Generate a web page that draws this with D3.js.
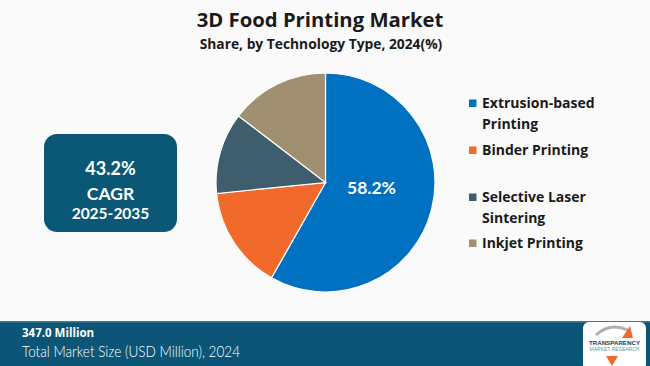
<!DOCTYPE html>
<html><head><meta charset="utf-8">
<script src="https://cdn.jsdelivr.net/npm/d3@7"></script>
<style>html,body{margin:0;padding:0;background:#fafafa;}svg{display:block;}</style>
</head><body>
<svg id="c" width="650" height="366"></svg>
<script>
const categories = ["Extrusion-based Printing", "Binder Printing", "Selective Laser Sintering", "Inkjet Printing"];
const legendLines = [["Extrusion-based", "Printing"], ["Binder Printing"], ["Selective Laser", "Sintering"], ["Inkjet Printing"]];
const shares = [58.2, 15.2, 12.0, 14.6];
const colors = ["#0070C0", "#F26A2B", "#3E5E6E", "#A08F70"];
const cagrText = ["43.2%", "CAGR", "2025-2035"];
const marketSize = "347.0 Million";
const marketLabel = "Total Market Size (USD Million), 2024";

const svg = d3.select("#c");
svg.append("rect").attr("width",650).attr("height",366).attr("fill","#fafafa");

// Title
svg.append("text").attr("x",320).attr("y",27).attr("text-anchor","middle")
  .attr("font-family","'Open Sans', sans-serif").attr("font-weight","700").attr("font-size",20.3)
  .attr("fill","#1a1a1a").text("3D Food Printing Market");
svg.append("text").attr("x",321).attr("y",49).attr("text-anchor","middle")
  .attr("font-family","'Open Sans', sans-serif").attr("font-weight","700").attr("font-size",13.8)
  .attr("fill","#1a1a1a").text("Share, by Technology Type, 2024(%)");

// Pie
const cx = 325.5, cy = 182.5, r = 109.5;
const pie = d3.pie().sort(null).value(d=>d);
const arc = d3.arc().innerRadius(0).outerRadius(r);
const g = svg.append("g").attr("transform",`translate(${cx},${cy})`);
const arcs = pie(shares);
g.selectAll("path").data(arcs).join("path")
  .attr("d",arc).attr("fill",(d,i)=>colors[i]).attr("stroke","#ffffff").attr("stroke-width",1.2);
g.append("text").attr("x",46).attr("y",11)
  .attr("text-anchor","middle").attr("font-family","'Lato', sans-serif").attr("font-weight","700")
  .attr("font-size",17.5).attr("fill","#ffffff").text(shares[0].toFixed(1)+"%");

// Legend
const legendY = [108, 155, 202, 248];
const lg = svg.append("g");
legendLines.forEach((lines,i)=>{
  lg.append("rect").attr("x",469).attr("y",legendY[i]-8.5).attr("width",7.5).attr("height",7.5).attr("fill",colors[i]);
  lines.forEach((t,j)=>{
    lg.append("text").attr("x",482).attr("y",legendY[i]+j*21)
      .attr("font-family","'Open Sans', sans-serif").attr("font-weight","700").attr("font-size",14)
      .attr("fill","#1a1a1a").text(t);
  });
});

// CAGR box
svg.append("rect").attr("x",44).attr("y",134).attr("width",133).attr("height",98).attr("rx",13)
  .attr("fill","#0B5876");
const cagrY = [175, 200, 219];
const cagrSize = [18, 17.5, 15.5];
cagrText.forEach((t,i)=>{
  svg.append("text").attr("x",110.5).attr("y",cagrY[i]).attr("text-anchor","middle")
    .attr("font-family","'Lato', sans-serif").attr("font-weight","700").attr("font-size",cagrSize[i])
    .attr("fill","#ffffff").text(t);
});

// Footer
svg.append("rect").attr("x",0).attr("y",321).attr("width",650).attr("height",45).attr("fill","#0B5577");
svg.append("rect").attr("x",0).attr("y",321).attr("width",650).attr("height",1.5).attr("fill","#3d7a96");
svg.append("text").attr("x",22).attr("y",337).attr("font-family","'Open Sans', sans-serif")
  .attr("font-weight","700").attr("font-size",11.5).attr("fill","#ffffff").text(marketSize);
svg.append("text").attr("x",22).attr("y",357).attr("font-family","'Lato', sans-serif")
  .attr("font-weight","300").attr("font-size",15.5).attr("textLength",218).attr("lengthAdjust","spacingAndGlyphs")
  .attr("fill","#ffffff").text(marketLabel);

// Logo
const lo = svg.append("g");
lo.append("rect").attr("x",583).attr("y",322).attr("width",63).attr("height",48).attr("rx",6).attr("fill","#ffffff");
lo.append("path").attr("d","M596,335 Q610,322 628,330").attr("fill","none").attr("stroke","#b0b0b0").attr("stroke-width",3);
lo.append("path").attr("d","M622,338 L630,326 L633,338 Z").attr("fill","#F26A2B");
lo.append("text").attr("x",614.5).attr("y",345).attr("text-anchor","middle").attr("font-family","'Liberation Sans', sans-serif")
  .attr("font-weight","700").attr("font-size",6.2).attr("fill","#1d3b57").text("TRANSPARENCY");
lo.append("text").attr("x",614.5).attr("y",351).attr("text-anchor","middle").attr("font-family","'Liberation Sans', sans-serif")
  .attr("font-size",5).attr("fill","#4aa0a8").text("MARKET RESEARCH");
lo.append("path").attr("d","M606,356 L612,366 L618,356 Z").attr("fill","#F26A2B");
</script>
</body></html>
